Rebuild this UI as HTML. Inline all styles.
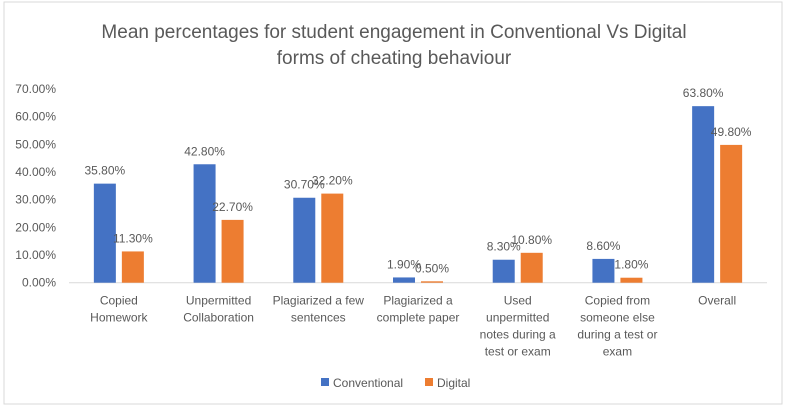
<!DOCTYPE html>
<html><head><meta charset="utf-8">
<style>
body{margin:0;background:#fff;}
svg{display:block;font-family:"Liberation Sans",sans-serif;}
</style></head>
<body>
<svg id="chart" width="788" height="410">
<rect x="4" y="2" width="778" height="402" fill="#fff" stroke="#d9d9d9"/>
<text x="394" y="38" text-anchor="middle" font-size="19" fill="#595959">Mean percentages for student engagement in Conventional Vs Digital</text>
<text x="394" y="64" text-anchor="middle" font-size="19" fill="#595959">forms of cheating behaviour</text>
<g id="axis"></g>
<g id="bars"></g>
<g id="labels"></g>
<g>
<rect x="321" y="378" width="8" height="8" fill="#4472c4"/>
<text x="333" y="387" font-size="12" fill="#595959">Conventional</text>
<rect x="425" y="378" width="8" height="8" fill="#ed7d31"/>
<text x="437" y="387" font-size="12" fill="#595959">Digital</text>
</g>
</svg>
<script>
const categories=[["Copied","Homework"],["Unpermitted","Collaboration"],["Plagiarized a few","sentences"],["Plagiarized a","complete paper"],["Used","unpermitted","notes during a","test or exam"],["Copied from","someone else","during a test or","exam"],["Overall"]];
const conventional=[35.8,42.8,30.7,1.9,8.3,8.6,63.8];
const digital=[11.3,22.7,32.2,0.5,10.8,1.8,49.8];
const ticks=[0,10,20,30,40,50,60,70];
const NS="http://www.w3.org/2000/svg";
const x0=69,x1=767,y0=282.7,yTop=89,maxV=70;
const band=(x1-x0)/categories.length;
const y=v=>y0-(v/maxV)*(y0-yTop);
const cx=i=>x0+band*(i+0.5);
function mk(tag,attrs,parent){const e=document.createElementNS(NS,tag);for(const k in attrs)e.setAttribute(k,attrs[k]);parent.appendChild(e);return e;}
const axis=document.getElementById('axis'),bars=document.getElementById('bars'),labels=document.getElementById('labels');
ticks.forEach(t=>{
  const tx=mk('text',{x:56,y:y(t)+4,'text-anchor':'end','font-size':12,fill:'#595959'},axis);
  
  
  tx.textContent=t.toFixed(2)+'%';
});
const base=mk('line',{x1:x0,x2:x1,y1:y0,y2:y0,stroke:'#d9d9d9','stroke-width':1},axis);


categories.forEach((lines,i)=>{
  lines.forEach((l,j)=>{
    const t=mk('text',{x:cx(i),y:y0+22+j*17,'text-anchor':'middle','font-size':12,fill:'#595959'},axis);
    
    
    t.textContent=l;
  });
  [[conventional,'#4472c4',-14,'conventional'],[digital,'#ed7d31',14,'digital']].forEach(([arr,col,off,nm])=>{
    const v=arr[i],bx=cx(i)+off;
    const r=mk('rect',{x:bx-11,y:y(v),width:22,height:y0-y(v),fill:col},bars);
    
    
    const t=mk('text',{x:bx,y:y(v)-9,'text-anchor':'middle','font-size':12,fill:'#595959'},labels);
    
    
    t.textContent=v.toFixed(2)+'%';
  });
});
</script>
</body></html>
